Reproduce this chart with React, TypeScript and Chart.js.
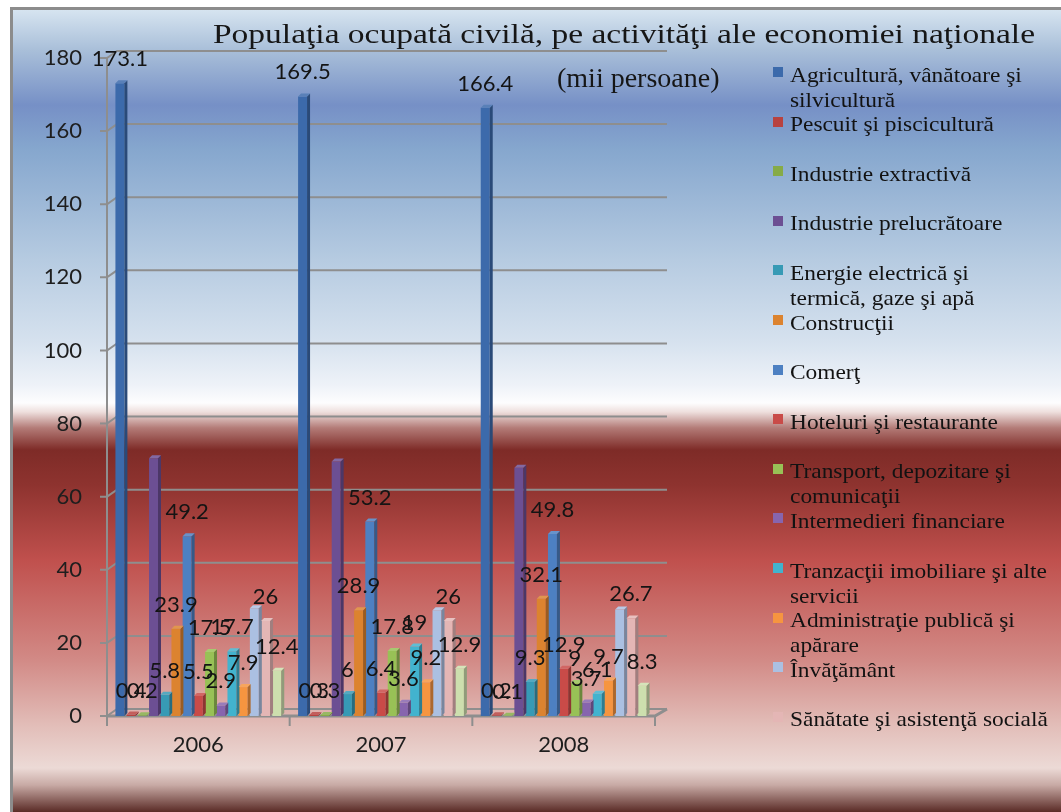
import React, { useEffect, useRef } from "react";
import { Chart, registerables } from "chart.js";

Chart.register(...registerables);

// ---------- data ----------
const categories = ["2006", "2007", "2008"];
const yTickValues = [0, 20, 40, 60, 80, 100, 120, 140, 160, 180];

const seriesNames = [
  "Agricultură, vânătoare şi silvicultură",
  "Pescuit şi piscicultură",
  "Industrie extractivă",
  "Industrie prelucrătoare",
  "Energie electrică şi termică, gaze şi apă",
  "Construcţii",
  "Comerţ",
  "Hoteluri şi restaurante",
  "Transport, depozitare şi comunicaţii",
  "Intermedieri financiare",
  "Tranzacţii imobiliare şi alte servicii",
  "Administraţie publică şi apărare",
  "Învăţământ",
  "Sănătate şi asistenţă socială",
  "Alte activităţi",
];

const legendLines = [
  ["Agricultură, vânătoare şi", "silvicultură"],
  ["Pescuit şi piscicultură"],
  ["Industrie extractivă"],
  ["Industrie prelucrătoare"],
  ["Energie electrică şi", "termică, gaze şi apă"],
  ["Construcţii"],
  ["Comerţ"],
  ["Hoteluri şi restaurante"],
  ["Transport, depozitare şi", "comunicaţii"],
  ["Intermedieri financiare"],
  ["Tranzacţii imobiliare şi alte", "servicii"],
  ["Administraţie publică şi", "apărare"],
  ["Învăţământ"],
  ["Sănătate şi asistenţă socială"],
];

const agricultura = [173.1, 169.5, 166.4];
const pescuit = [0.4, 0.3, 0.2];
const extractiva = [0.2, 0.3, 0.1];
const prelucratoare = [70.5, 69.6, 67.9];
const energie = [5.8, 6, 9.3];
const constructii = [23.9, 28.9, 32.1];
const comert = [49.2, 53.2, 49.8];
const hoteluri = [5.5, 6.4, 12.9];
const transport = [17.5, 17.8, 9];
const financiare = [2.9, 3.6, 3.7];
const imobiliare = [17.7, 19, 6.1];
const administratie = [7.9, 9.2, 9.7];
const invatamant = [29.5, 28.9, 29.1];
const sanatate = [26, 26, 26.7];
const alte = [12.4, 12.9, 8.3];

const seriesValues = [
  agricultura, pescuit, extractiva, prelucratoare, energie, constructii, comert,
  hoteluri, transport, financiare, imobiliare, administratie, invatamant, sanatate, alte,
];

const showValueLabel = [
  true, true, true, false, true, true, true, true, true, true, true, true, false, true, true,
];

const seriesColors = [
  "#3c6aab", "#b8423f", "#86ab47", "#6c4f93", "#379ab5", "#dc832f", "#4d80c2",
  "#c94b48", "#98c156", "#8765ae", "#42b3ce", "#f69540", "#abc0e2", "#e4b6b5", "#cddfae",
];

// ---------- helpers ----------
function shade(hex: string, f: number) {
  const n = parseInt(hex.slice(1), 16);
  const r = (n >> 16) & 255, g = (n >> 8) & 255, b = n & 255;
  const adj = (c: number) => (f < 0 ? Math.round(c * (1 + f)) : Math.round(c + (255 - c) * f));
  return `rgb(${adj(r)},${adj(g)},${adj(b)})`;
}

let measureCtx: CanvasRenderingContext2D | null = null;
function measure(text: string, font: string) {
  if (!measureCtx) measureCtx = document.createElement("canvas").getContext("2d");
  measureCtx!.font = font;
  return measureCtx!.measureText(text).width;
}

const TICK_FONT = "Lato";
const SERIF = "'Liberation Serif', 'Times New Roman', serif";

const wallPlugin = {
  id: "walls3d",
  beforeDatasetsDraw(chart: any) {
    const { ctx, chartArea, scales } = chart;
    const { left, right, bottom } = chartArea;
    const y = scales.y;
    const dx = 10, dy = 7;
    ctx.save();
    ctx.strokeStyle = "#8e8e8e";
    ctx.lineWidth = 2;
    ctx.beginPath();
    for (const v of yTickValues) {
      const py = y.getPixelForValue(v);
      ctx.moveTo(left - 7, py);
      ctx.lineTo(left, py);
      ctx.lineTo(left + dx, py - dy);
      ctx.lineTo(right + dx + 2, py - dy);
    }
    ctx.moveTo(left, y.getPixelForValue(180));
    ctx.lineTo(left, bottom + 10);
    ctx.stroke();
    ctx.lineWidth = 3;
    ctx.beginPath();
    ctx.moveTo(left, bottom);
    ctx.lineTo(right, bottom);
    ctx.lineTo(right + dx + 2, bottom - dy);
    ctx.stroke();
    ctx.lineWidth = 2;
    ctx.beginPath();
    for (let i = 0; i <= categories.length; i++) {
      const px = left + ((right - left) * i) / categories.length;
      ctx.moveTo(px, bottom);
      ctx.lineTo(px, bottom + 10);
    }
    ctx.stroke();
    ctx.restore();
  },
};

const bars3dPlugin = {
  id: "bars3d",
  afterDatasetsDraw(chart: any) {
    const ctx = chart.ctx;
    const D = 3;
    ctx.save();
    chart.data.datasets.forEach((ds: any, i: number) => {
      const meta = chart.getDatasetMeta(i);
      const color = seriesColors[i];
      meta.data.forEach((el: any) => {
        const { x, y, base, width } = el.getProps(["x", "y", "base", "width"], true);
        const l = x - width / 2, r = x + width / 2;
        ctx.fillStyle = shade(color, -0.3);
        ctx.beginPath();
        ctx.moveTo(r, y);
        ctx.lineTo(r + D, y - D);
        ctx.lineTo(r + D, base - D);
        ctx.lineTo(r, base);
        ctx.closePath();
        ctx.fill();
        ctx.fillStyle = shade(color, 0.15);
        ctx.beginPath();
        ctx.moveTo(l, y);
        ctx.lineTo(l + D, y - D);
        ctx.lineTo(r + D, y - D);
        ctx.lineTo(r, y);
        ctx.closePath();
        ctx.fill();
      });
    });
    ctx.fillStyle = "#141414";
    ctx.font = `22px ${TICK_FONT}`;
    ctx.textAlign = "center";
    ctx.textBaseline = "middle";
    chart.data.datasets.forEach((ds: any, i: number) => {
      if (!showValueLabel[i]) return;
      const meta = chart.getDatasetMeta(i);
      meta.data.forEach((el: any, j: number) => {
        const { x, y } = el.getProps(["x", "y"], true);
        ctx.fillText(String(ds.data[j]), x, y - 24);
      });
    });
    ctx.restore();
  },
};

export default function App() {
  const canvasRef = useRef<HTMLCanvasElement | null>(null);

  useEffect(() => {
    if (!canvasRef.current) return;
    const chart = new Chart(canvasRef.current, {
      type: "bar",
      data: {
        labels: categories,
        datasets: seriesNames.map((name, i) => ({
          label: name,
          data: seriesValues[i],
          backgroundColor: seriesColors[i],
          borderWidth: 0,
          categoryPercentage: 0.92,
          barPercentage: 0.8,
        })),
      },
      options: {
        responsive: false,
        animation: false,
        devicePixelRatio: 1,
        layout: { padding: { left: 0, top: 58, right: 1061 - 655, bottom: 36 } },
        plugins: {
          legend: { display: false },
          title: { display: false },
          tooltip: { enabled: false },
        },
        scales: {
          x: {
            grid: { display: false, drawTicks: false },
            border: { display: false },
            ticks: { color: "#1e1e1e", font: { family: TICK_FONT, size: 22 }, padding: 16 },
            afterFit: (s: any) => { s.height = 60; },
          },
          y: {
            min: 0,
            max: 180,
            grid: { display: false, drawTicks: false },
            border: { display: false },
            ticks: { stepSize: 20, color: "#1e1e1e", font: { family: TICK_FONT, size: 22 }, padding: 25 },
            afterFit: (s: any) => { s.width = 107; },
          },
        },
      },
      plugins: [wallPlugin, bars3dPlugin],
    } as any);
    return () => chart.destroy();
  }, []);

  const titleFont = `28px ${SERIF}`;
  const t1 = "Populaţia ocupată civilă, pe activităţi ale economiei naţionale";
  const t2 = "(mii persoane)";
  const t1Scale = 822 / measure(t1, titleFont);
  const legendFont = `21px ${SERIF}`;
  const legendScale = 257 / measure("Tranzacţii imobiliare şi alte", legendFont);

  const bg =
    "linear-gradient(to bottom, #d6e4f0 0px, #a9bfd9 40px, #7690c6 95px, #86a7ce 140px, #b6cbe1 250px, #d5e1ee 330px, #eef2f8 375px, #fdfdfe 393px, #eedfdd 402px, #b37b77 418px, #7e2b27 440px, #8e332f 475px, #c0504d 550px, #d28a86 650px, #e2bdb8 715px, #ecdad6 758px, #c8aaa5 775px, #5a2b26 802px)";

  return (
    <div style={{ position: "absolute", left: 0, top: 0, width: 1061, height: 812, overflow: "hidden", background: "#fff" }}>
      <div
        style={{
          position: "absolute",
          left: 10,
          top: 7,
          width: 1060,
          height: 815,
          boxSizing: "border-box",
          border: "3px solid #8c8c8c",
          background: bg,
        }}
      />
      <canvas
        ref={canvasRef}
        width={1061}
        height={812}
        style={{ position: "absolute", left: 0, top: 0, width: 1061, height: 812 }}
      />
      <div
        style={{
          position: "absolute",
          left: 213,
          top: 16,
          font: titleFont,
          lineHeight: "36px",
          color: "#161616",
          whiteSpace: "nowrap",
          transform: `scaleX(${t1Scale})`,
          transformOrigin: "left top",
        }}
      >
        {t1}
      </div>
      <div
        style={{
          position: "absolute",
          left: 557,
          top: 60,
          font: titleFont,
          lineHeight: "36px",
          color: "#161616",
          whiteSpace: "nowrap",
        }}
      >
        {t2}
      </div>
      {legendLines.map((lines, i) => {
        const cy = 75 + i * 49.6;
        return (
          <React.Fragment key={i}>
            <div
              style={{
                position: "absolute",
                left: 773,
                top: cy - 8,
                width: 10,
                height: 10,
                background: seriesColors[i],
              }}
            />
            <div
              style={{
                position: "absolute",
                left: 790,
                top: cy - 12.5,
                font: legendFont,
                lineHeight: "25px",
                color: "#121212",
                whiteSpace: "nowrap",
                transform: `scaleX(${legendScale})`,
                transformOrigin: "left top",
              }}
            >
              {lines.map((ln, k) => (
                <div key={k}>{ln}</div>
              ))}
            </div>
          </React.Fragment>
        );
      })}
    </div>
  );
}
